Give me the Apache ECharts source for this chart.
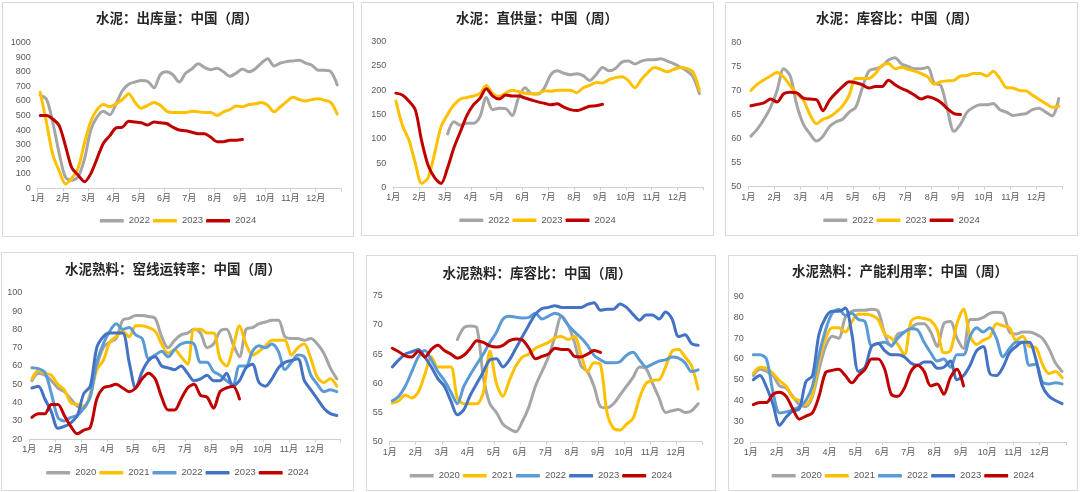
<!DOCTYPE html>
<html><head><meta charset="utf-8">
<script src="https://cdn.jsdelivr.net/npm/echarts/dist/echarts.min.js"></script>
<style>
html,body{margin:0;padding:0;background:#fff;width:1080px;height:492px;overflow:hidden;}
.frame{position:absolute;border:1px solid #d9d9d9;box-sizing:border-box;}
.chart{position:absolute;}
</style></head><body>
<script>
// ---------- tick labels ----------
const monthLabels = ['1月','2月','3月','4月','5月','6月','7月','8月','9月','10月','11月','12月'];

// ---------- panel 1: 水泥 出库量 ----------
const p1_2022 = [640,610,450,240, 75,55,80,200, 400,490,530,505, 580,670,715,730, 740,735,690,780, 800,780,730,790, 820,855,830,815, 825,800,770,790, 820,800,820,860, 890,840,860,870, 875,880,860,845, 810,810,800,710];
const p1_2023 = [660,450,230,120, 30,70,140,310, 460,540,575,560, 580,610,650,590, 550,570,590,570, 530,520,520,520, 530,525,520,520, 500,525,540,565, 560,575,580,590, 570,525,560,595, 625,610,600,610, 615,605,590,510];
const p1_2024 = [500,500,475,430, 290,140,90,45, 100,205,310,360, 415,420,460,455, 450,435,455,450, 445,420,400,395, 385,375,375,350, 320,320,330,330, 335];

// ---------- panel 2: 水泥 直供量 ----------
const p2_2022 = [null,null,null,null, null,null,null,null, 110,135,128,132, 132,145,185,160, 163,162,148,185, 205,193,192,205, 232,240,235,232, 234,230,220,232, 247,240,245,258, 260,254,260,263, 263,265,260,255, 248,240,228,193];
const p2_2023 = [178,128,98,50, 8,20,70,125, 150,170,182,185, 188,193,210,193, 187,194,200,197, 194,193,193,199, 198,200,200,200, 195,205,210,216, 215,222,226,228, 220,205,222,236, 247,243,238,243, 247,245,238,200];
const p2_2024 = [194,190,178,160, 95,45,20,8, 40,82,115,148, 170,183,203,188, 182,190,188,188, 184,180,176,173, 170,172,165,160, 158,162,167,168, 171];

// ---------- panel 3: 水泥 库容比 ----------
const p3_2022 = [60.5,62,64,66.5, 70,74.5,73,67, 63,61,59.5,60.5, 62.5,63.5,64,65.5, 66.5,70.5,74,74.5, 75,76.3,76.8,75.5, 75,74.5,74.5,74.8, 71.5,71,66,61.5, 63,65.5,66.5,67, 67,67.3,66,65.5, 64.8,65,65.2,66, 66.3,65.5,64.7,68.3];
const p3_2023 = [70,71.3,72.2,73, 73.7,72.8,71,69.3, 68,65,63.1,64, 64.5,65.5,66.8,69, 72.5,72.5,72.5,73.5, 75.2,75.6,74.5,74.8, 74.4,74,73.5,72.8, 71.3,71.8,72,72.1, 73,73.1,73.5,73.5, 73,74,72.5,70.6, 70.5,70,69.9,69, 68.1,67.3,66.5,66.7];
const p3_2024 = [66.8,67.1,67.4,68.2, 67.6,69.3,69.6,69.5, 68.4,68.2,68.1,65.8, 68,69.5,70.8,71.8, 71.6,71.2,70.5,70.8, 70.8,72.1,71.2,70.4, 69.8,69,68.2,68.7, 68.3,67.5,66.2,65.2, 65];

// ---------- panel 4: 水泥熟料 窑线运转率 ----------
const p4_2020 = [52,56,55,52, 48,46,42,38, 37,45,60,70, 73,75,85,86, 87.5,87.5,87,86, 76,70,74,77, 78,80,78,70, 72,79,80,72, 65,80,81,83, 84,85,85,76, 75,75,74,75, 72,67,59,53];
const p4_2021 = [53,57.5,56,55, 50,47,40,39, 38,44,58,63, 73,76,79,76, 82,82,81,79, 72,67,69,65, 61,80,80,78, 78,64,60,70, 82,72,66,68, 71,74,74,74, 66,70,72,64, 54,51,53,49];
const p4_2022 = [59,58.5,56.5,45, 32,30,32,33, 37,43,62,72, 79,83,80,81, 77,75,64,66, 68,65,69,72, 73,72,62,62, 57,55,52,50, 60,60,68,71, 70,72,68,58, 62,66,65,55, 50,46,47,46];
const p4_2023 = [48,49,42,35, 26,27,29,33, 45,49,70,76, 78,78,78,62, 48,57,63,65, 60,59,58,60, 56,52,53,55, 52,52,56,49, 52,59,61,51, 49,53,59,62, 63,64,52,47, 42,37,34,33];
const p4_2024 = [32,34,34,39, 39,33,27,23, 25,26.5,42,48, 49,50,48,46, 48,53,56,53, 43,36,36,42, 48,50,44,43, 37,46,48,49, 42];

// ---------- panel 5: 水泥熟料 库容比 ----------
const p5_2020 = [null,null,null,null, null,null,null,null, null,null,67.5,69.5, 69.8,69.5,61,56.5, 55,53,52.2,51.7, 53.5,56,59.5,62, 64.5,68,71.5,70, 67,63,62,59.5, 56,55.8,56.5,58, 59.5,61,62.8,62.5, 60,57.5,55,55.3, 55.5,55,55.3,56.5];
const p5_2021 = [56.6,57,58,57.5, 58.5,61.5,64.5,62.8, 62.8,62.8,57.5,56.5, 56.5,56.5,58.5,65.5, 60,57.8,60.5,63, 64.5,65,66,66.5, 67,67.8,68,67.5, 68,65,62,63.5, 63.2,55,52.3,52, 53,54,57.5,60, 60.5,60.6,62.8,65.5, 65.8,64.5,63,59];
const p5_2022 = [57,57.8,59.5,62, 64.5,65.6,64,62, 60.5,58.5,56.5,59.5, 61.5,63.3,65,67, 68.7,71,71.5,71.3, 71.2,71.3,72,71, 71.5,72,71.5,70, 68.8,67.8,66.5,64.8, 64,63.5,63.5,63.7, 64.8,65.3,64,62.8, 63.3,63.8,64,64.5, 64.3,63.5,62,62.3];
const p5_2023 = [62.8,64,65,65.4, 65.8,64.5,62.8,60.8, 59.5,57,54.6,55.5, 58,60,62,64, 64.2,62.8,64,66, 68,70,71.8,72.8, 73,73.3,73,73, 73,73,73.5,73.8, 72.5,72.7,72.7,73.6, 73,71.8,70.8,71.7, 71.7,71,72.2,71, 68,68.3,66.8,66.5];
const p5_2024 = [66,65.4,64.7,64.5, 65.5,64.5,65.8,66.5, 65.6,65,64.3,64.8, 66,67.3,67,66.4, 66.2,66.5,67.3,67.6, 67.4,66,64.2,64.6, 65,66,65.8,65.8, 64.6,64.5,65,65.6, 65.3];

// ---------- panel 6: 水泥熟料 产能利用率 ----------
const p6_2020 = [52,55,54,52, 47,46,42,38, 37,42,55,66, 71,70,80,83, 83.5,83.5,84,83, 72,66,72,73, 75,77,77,73, 66,77,78,70, 65,79,79,80, 82,82.5,82,73, 72,73,73,72, 70,65,58,54];
const p6_2021 = [53,56,55.5,53, 49.5,47,41.5,40, 38,43,59,70, 75,75,73,78, 81.5,81.5,81,79, 72,70,67,62, 78,80,79.5,78.5, 74,63,64,77, 84,71,67,69, 70.5,77,76,75, 69,71,66,65.5, 57.5,53,54,51];
const p6_2022 = [62,62,60,44, 34,34.5,35.5,37, 40,47,62,74, 82,84,81,82, 79,78,66.5,67.5, 68,66.5,70,73, 74.5,74,68,63, 59,60,56,62, 62,71,75,73, 75,70,61,65, 68,68,57,57.5, 49,48,48.5,48];
const p6_2023 = [50,52,46.5,38, 28,32,35,36, 49,52,72,80, 83,83,84.5,72, 54,56,66,67.5, 64,62,62,61, 58,57,58.5,58.5, 55.5,56,59,50, 52,57,64,66, 53,52,56,63, 66,68,68,60, 47,42,40,38.5];
const p6_2024 = [38,39,39,43, 44,42,36,31, 32.5,34,42,53.5, 54.5,55,52,48.5, 52,55,60,60, 55,43,42,46, 54,57,54,47, 48,43,51,55, 47];

// ---------- styles ----------
const GRAY = '#A5A5A5', YELLOW = '#FFC000', RED = '#C00000', LBLUE = '#5B9BD5', DBLUE = '#4472C4';
const FONT = "'Liberation Sans','Noto Sans CJK SC',sans-serif";

const panels = [
  {box:[2,2,352,235], title:'水泥：出库量：中国（周）', tx:175, ty:8,
   grid:{left:35.7,right:13,top:40.7,bottom:48.7}, y:[0,1000,100], ly:214,
   series:[['2022',p1_2022,GRAY],['2023',p1_2023,YELLOW],['2024',p1_2024,RED]]},
  {box:[361,2,353,234], title:'水泥：直供量：中国（周）', tx:176, ty:8,
   grid:{left:32.3,right:10.7,top:39.7,bottom:48.7}, y:[0,300,50], ly:213.5,
   series:[['2022',p2_2022,GRAY],['2023',p2_2023,YELLOW],['2024',p2_2024,RED]]},
  {box:[725,2,353,234], title:'水泥：库容比：中国（周）', tx:172, ty:8,
   grid:{left:23.3,right:15.3,top:40.3,bottom:49.3}, y:[50,80,5], ly:213.5,
   series:[['2022',p3_2022,GRAY],['2023',p3_2023,YELLOW],['2024',p3_2024,RED]]},
  {box:[1,252,353,239], title:'水泥熟料：窑线运转率：中国（周）', tx:172, ty:9.3,
   grid:{left:28.3,right:13.3,top:40.7,bottom:51.7}, y:[20,100,10], ly:216,
   series:[['2020',p4_2020,GRAY],['2021',p4_2021,YELLOW],['2022',p4_2022,LBLUE],['2023',p4_2023,DBLUE],['2024',p4_2024,RED]]},
  {box:[366,255,350,236], title:'水泥熟料：库容比：中国（周）', tx:171, ty:9.7,
   grid:{left:23.7,right:14,top:40.7,bottom:49.3}, y:[50,75,5], ly:216,
   series:[['2020',p5_2020,GRAY],['2021',p5_2021,YELLOW],['2022',p5_2022,LBLUE],['2023',p5_2023,DBLUE],['2024',p5_2024,RED]]},
  {box:[728,255,350,236], title:'水泥熟料：产能利用率：中国（周）', tx:172, ty:8,
   grid:{left:22.7,right:12,top:41.7,bottom:49}, y:[20,90,10], ly:216,
   series:[['2020',p6_2020,GRAY],['2021',p6_2021,YELLOW],['2022',p6_2022,LBLUE],['2023',p6_2023,DBLUE],['2024',p6_2024,RED]]}
];

// weekly sample i sits at month-position 0.1 + i/4 on the month axis
function toPoints(vals){
  const out = [];
  vals.forEach((v,i)=>{ if(v!==null) out.push([0.1 + i*0.25, v]); });
  return out;
}

panels.forEach((p)=>{
  const [L,T,W,H] = p.box;
  const fr = document.createElement('div');
  fr.className='frame';
  Object.assign(fr.style,{left:L+'px',top:T+'px',width:W+'px',height:H+'px'});
  document.body.appendChild(fr);
  const el = document.createElement('div');
  el.className='chart';
  Object.assign(el.style,{left:L+'px',top:T+'px',width:W+'px',height:H+'px'});
  document.body.appendChild(el);
  const chart = echarts.init(el, null, {renderer:'canvas'});
  chart.setOption({
    animation:false,
    backgroundColor:'transparent',
    title:{text:p.title, left:p.tx, top:p.ty, textAlign:'center', padding:0,
      textStyle:{fontFamily:"'Noto Sans CJK SC',sans-serif", fontSize:13.5, fontWeight:'bold', color:'#262626', lineHeight:16}},
    legend:{left:'center', top:p.ly, itemWidth:24, itemHeight:3.5, itemGap:3, icon:'roundRect', padding:0,
      textStyle:{fontFamily:FONT, fontSize:9.5, color:'#595959'},
      data:p.series.map(s=>s[0])},
    grid:p.grid,
    xAxis:{type:'value', min:0, max:12, interval:1,
      axisLine:{lineStyle:{color:'#d0d0d0', width:1}},
      axisTick:{show:true, length:3, lineStyle:{color:'#d0d0d0'}},
      splitLine:{show:false},
      axisLabel:{margin:6, fontFamily:FONT, fontSize:9, color:'#595959',
        formatter:(v)=> (v>=0 && v<12) ? monthLabels[Math.round(v)] : ''}},
    yAxis:{type:'value', min:p.y[0], max:p.y[1], interval:p.y[2],
      axisLine:{show:false}, axisTick:{show:false}, splitLine:{show:false},
      axisLabel:{margin:7, fontFamily:FONT, fontSize:9, color:'#595959',
        formatter:(v)=> String(v)}},
    series:p.series.map(s=>({
      name:s[0], type:'line', data:toPoints(s[1]), showSymbol:false, symbol:'none',
      smooth:0.3, color:s[2],
      lineStyle:{width:3, color:s[2], cap:'round', join:'round'}
    }))
  });
});
</script>
</body></html>
